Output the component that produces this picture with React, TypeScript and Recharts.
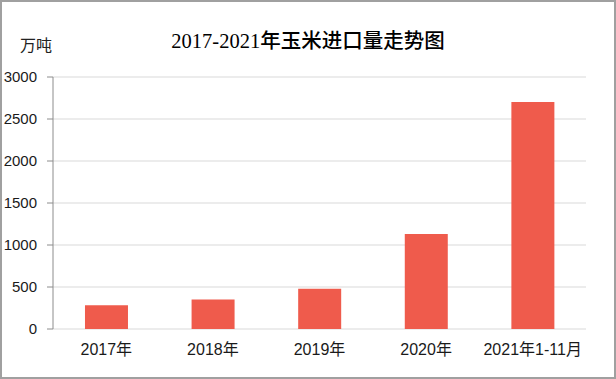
import React from "react";
import { BarChart, Bar, XAxis, YAxis, CartesianGrid } from "recharts";

const categories = ["2017年", "2018年", "2019年", "2020年", "2021年1-11月"];
const imports = [283, 352, 479, 1130, 2701];
const yTicks = [0, 500, 1000, 1500, 2000, 2500, 3000];
const boundaryTicks = [0, 1, 2, 3, 4, 5];

const data = categories.map((c, i) => ({ name: c, value: imports[i] }));

const sans = "'Liberation Sans', 'Noto Sans CJK SC', sans-serif";
const serif = "'Liberation Serif', 'Noto Sans CJK SC', serif";

export default function App() {
  return (
    <div
      style={{
        position: "fixed",
        left: 0,
        top: 0,
        width: 616,
        height: 379,
        background: "#fff",
        boxSizing: "border-box",
        border: "2px solid #a0a0a0",
        overflow: "hidden",
      }}
    >
      <div
        style={{
          position: "absolute",
          left: -2,
          top: -2,
          width: 616,
          height: 379,
        }}
      >
        <BarChart
          width={616}
          height={379}
          data={data}
          margin={{ top: 77, right: 30, bottom: 20, left: 0 }}
          barCategoryGap="30%"
        >
          <CartesianGrid vertical={false} stroke="#d9d9d9" strokeWidth={1} xAxisId="a" />
          <XAxis
            xAxisId="b"
            type="number"
            dataKey="idx"
            domain={[0, 5]}
            ticks={boundaryTicks}
            tick={false}
            tickSize={5}
            tickLine={{ stroke: "#8c8c8c" }}
            axisLine={{ stroke: "#8c8c8c" }}
            height={0}
            allowDataOverflow
          />
          <XAxis
            xAxisId="a"
            dataKey="name"
            axisLine={false}
            tickLine={false}
            tickSize={0}
            tickMargin={15}
            height={30}
            interval={0}
            tick={{ fill: "#1a1a1a", fontSize: 16, fontFamily: sans }}
          />
          <YAxis
            domain={[0, 3000]}
            ticks={yTicks}
            width={53}
            tickSize={6}
            tickMargin={10}
            axisLine={{ stroke: "#8c8c8c" }}
            tickLine={{ stroke: "#8c8c8c" }}
            tick={{ fill: "#1a1a1a", fontSize: 15, fontFamily: sans }}
          />
          <Bar
            xAxisId="a"
            dataKey="value"
            fill="#EF5B4C"
            isAnimationActive={false}
          />
        </BarChart>
        <div
          style={{
            position: "absolute",
            left: 0,
            width: 616,
            top: 28,
            textAlign: "center",
            fontFamily: serif,
            fontSize: 20.5,
            color: "#000",
            lineHeight: "26px",
            fontWeight: 500,
          }}
        >
          2017-2021年玉米进口量走势图
        </div>
        <div
          style={{
            position: "absolute",
            left: 20,
            top: 36,
            fontFamily: sans,
            fontSize: 16,
            color: "#222",
            lineHeight: "20px",
          }}
        >
          万吨
        </div>
      </div>
    </div>
  );
}
